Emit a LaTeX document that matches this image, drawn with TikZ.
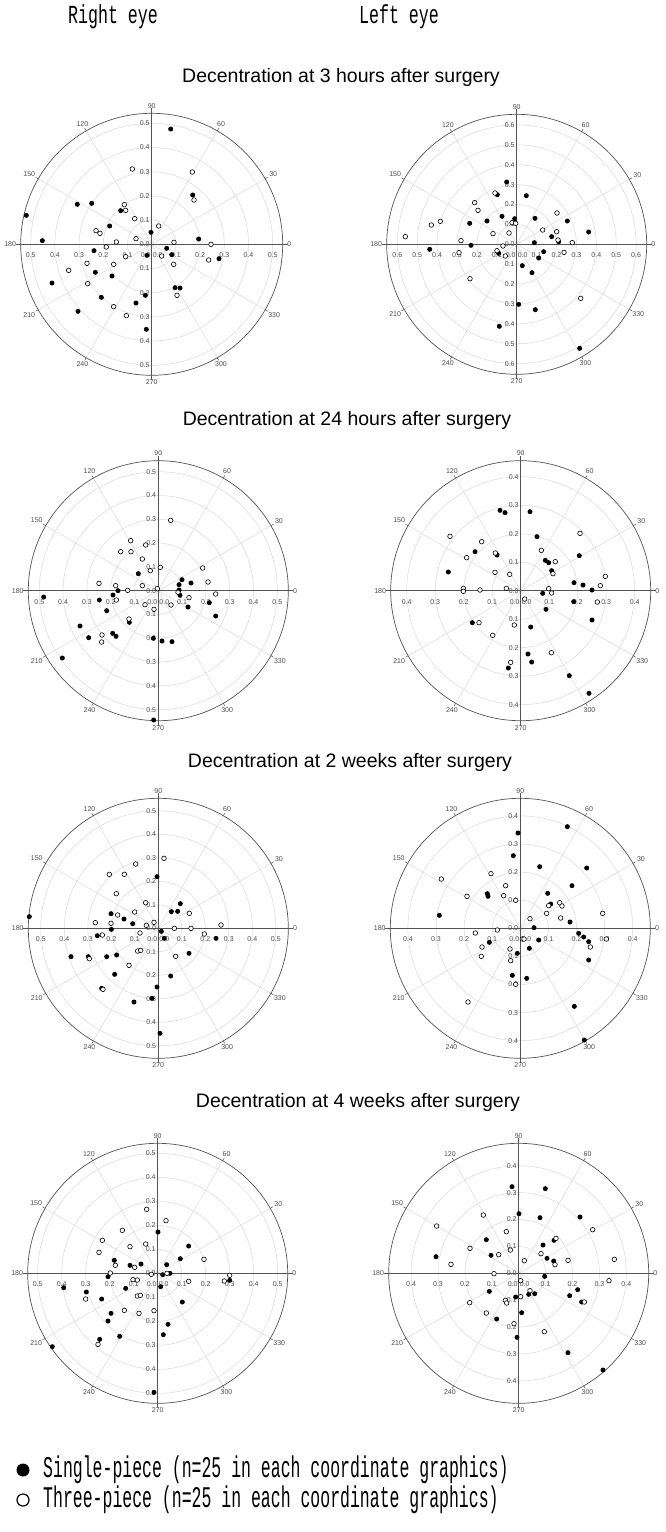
\documentclass[tikz,border=0pt]{standalone}
\usepackage{fontspec}
\setmainfont{Liberation Sans}
\newfontfamily\monof{Liberation Mono}
\begin{document}
\begin{tikzpicture}[x=1pt,y=-1pt,
  gridc/.style={gray!30,line width=0.5pt},
  axisc/.style={gray!65!black,line width=0.7pt},
  lab/.style={font=\fontsize{7}{8}\selectfont,text=gray!60!black,inner sep=0.5pt},
  fdot/.style={fill=black},
  odot/.style={draw=black,fill=white,line width=0.6pt}]
\useasboundingbox (0,0) rectangle (666,1532);
\newcommand\polarplot[5]{%
\begin{scope}[shift={(#1,#2)}]
 \foreach \k in {1,...,#4} \draw[gridc] (0,0) circle ({\k*#3pt});
 \foreach \t in {30,60,120,150,210,240,300,330}{
   \draw[gridc] (0,0) -- (\t:#5pt);
   \draw[axisc,line width=0.5pt] (\t:#5pt) -- (\t:{#5pt+3pt});}
 \draw[axisc] (0,0) circle (#5pt);
 \draw[axisc] ({-#5pt-5pt},0) -- ({#5pt+5pt},0);
 \draw[axisc] (0,{-#5pt-5pt}) -- (0,{#5pt+5pt});
 \foreach \t [evaluate=\t as \an using {mod(\t+180,360)}] in {0,30,...,330}
   \node[lab,anchor=\an] (ang\t) at (\t:{#5pt+4pt}) {\t};
 \node[lab,anchor=east] (v0) at (-1.5pt,0pt) {0.0};
 \node[lab] (h0a) at (-6pt,-11pt) {0.0};
 \node[lab] (h0b) at (6pt,-11pt) {0.0};
 \foreach \k in {1,...,#4}{
   \node[lab,anchor=east] (vu\k) at (-1.5pt,{\k*#3pt}) {0.\k};
   \node[lab,anchor=east] (vd\k) at (-1.5pt,{-\k*#3pt}) {0.\k};
   \node[lab] (hr\k) at ({\k*#3pt},-11pt) {0.\k};
   \node[lab] (hl\k) at ({-\k*#3pt},-11pt) {0.\k};}
\end{scope}}
\newcommand\fpts[3]{\foreach \a/\b in {#3} \fill[fdot] ({#1+\a/3},{#2+\b/3}) circle (2.5pt);}
\newcommand\opts[3]{\foreach \a/\b in {#3} \draw[odot] ({#1+\a/3},{#2+\b/3}) circle (2.3pt);}

\node[font=\monof\fontsize{26}{28}\selectfont] (re) at (113,17) {\scalebox{0.64}[1]{Right eye}};
\node[font=\monof\fontsize{26}{28}\selectfont] (le) at (399,17) {\scalebox{0.64}[1]{Left eye}};

\tikzset{ttl/.style={font=\fontsize{19.5}{21}\selectfont}}
\node[ttl] (t1) at (341,77) {Decentration at 3 hours after surgery};
\node[ttl] (t2) at (347,420) {Decentration at 24 hours after surgery};
\node[ttl] (t3) at (350,762) {Decentration at 2 weeks after surgery};
\node[ttl] (t4) at (358,1102) {Decentration at 4 weeks after surgery};

% row 1
\polarplot{151.7}{244.3}{24.2}{5}{131}
\polarplot{516.7}{244.3}{19.9}{6}{130}
\fpts{0}{60}{512/207,578/405,232/433,275/430,362/452,79/466,329/498,453/517,127/542,596/537,282/572,500/565,441/586,515/584,657/596,286/637,336/648,156/669,525/683,540/684,304/712,436/706,234/754,408/729,439/808}
\opts{0}{60}{397/327,577/336,582/420,373/434,377/451,476/498,404/476,288/512,300/520,349/546,408/536,319/561,522/547,633/553,377/590,485/588,626/600,261/610,341/613,206/631,521/613,263/671,531/706,341/740,379/767}
\fpts{333}{60}{521/366,493/404,580/407,507/469,545/476,462/483,410/490,606/475,703/483,767/516,656/530,604/548,414/556,290/568,677/545,632/575,617/594,497/580,568/617,597/638,557/733,607/749,499/799,740/865}
\opts{333}{60}{486/399,425/428,435/451,295/495,322/484,217/530,480/521,528/519,537/488,548/490,629/510,672/459,671/515,675/540,718/548,384/542,378/578,492/572,510/558,517/588,693/577,411/656,743/715}

% row 2
\polarplot{158.3}{590.7}{23.8}{5}{130}
\polarplot{520.7}{590.7}{28.5}{4}{130}
\fpts{0}{360}{415/641,546/659,537/674,573/669,354/692,339/705,298/720,131/711,537/690,540/706,628/728,320/752,564/741,647/768,388/787,240/798,266/833,338/820,348/829,460/835,486/843,516/845,187/894,461/1080}
\opts{0}{360}{512/481,392/542,437/555,362/575,393/575,427/597,481/622,451/632,608/624,624/666,297/670,347/677,383/691,427/677,472/686,534/697,567/713,647/702,349/720,435/734,462/748,513/735,387/777,306/825,305/846}
\fpts{333}{360}{501/451,516/458,591/455,612/530,426/575,492/585,346/636,637/601,647/608,656/632,739/587,723/668,750/675,777/690,629/700,722/725,639/748,777/780,418/788,593/801,585/882,596/906,526/924,709/947,768/1000}
\opts{333}{360}{351/529,446/545,625/571,741/520,401/593,487/579,667/605,530/643,660/641,486/637,817/649,802/677,520/685,391/685,391/694,441/690,647/686,656/699,575/717,793/726,544/795,438/788,479/826,655/878,533/907}

% row 3
\polarplot{158.3}{928.3}{23.5}{5}{130}
\polarplot{520.3}{928.3}{28.1}{4}{130}
\fpts{0}{740}{471/410,333/521,372/537,398/551,334/568,88/530,514/515,533/514,541/491,484/574,493/595,292/587,648/595,213/650,265/650,320/650,350/645,567/640,344/703,512/708,471/741,305/745,456/775,402/786,480/880}
\opts{0}{740}{492/355,407/372,328/403,373/403,349/461,437/488,404/516,353/525,286/548,333/550,439/556,462/547,420/579,307/585,523/565,573/565,663/555,613/582,568/520,413/633,422/631,527/649,268/656,387/676,309/748}
\fpts{333}{740}{703/260,555/279,541/347,620/380,761/384,717/437,463/461,465/469,644/460,653/492,319/526,711/546,603/563,737/580,752/591,767/605,469/607,617/600,589/625,553/640,767/660,538/706,581/715,724/799,754/900}
\opts{333}{740}{474/401,518/437,325/417,402/469,512/467,548/481,591/536,647/497,641/520,680/488,687/498,683/534,809/520,427/579,493/570,568/597,820/597,772/621,447/621,445/649,531/627,533/662,548/733,405/786,573/597}

% row 4
\polarplot{157.7}{1273.3}{24}{5}{130}
\polarplot{518.7}{1273.3}{26.9}{4}{130}
\fpts{0}{1120}{474/336,566/378,541/416,343/421,390/436,423/432,500/434,488/464,510/460,324/470,191/503,259/516,377/505,482/500,305/537,689/481,333/580,324/603,547/546,504/613,490/644,359/649,299/658,157/680,462/817}
\opts{0}{1120}{440/268,498/302,367/331,307/361,437/372,390/380,297/397,346/436,404/442,612/418,331/459,454/463,501/460,689/466,673/483,566/484,399/479,412/480,257/537,412/528,421/526,462/572,373/571,417/580,294/673}
\fpts{333}{1120}{537/200,637/206,558/281,621/293,741/291,460/359,630/375,663/361,474/406,642/415,662/423,309/410,635/469,469/514,548/531,587/523,605/521,710/527,734/509,746/546,491/597,566/578,552/652,705/698,810/750}
\opts{333}{1120}{451/285,311/318,520/335,779/329,669/355,411/385,532/390,497/404,624/401,574/422,666/434,705/421,844/418,354/433,483/461,563/482,828/482,591/512,517/541,521/549,563/530,410/548,460/579,543/611,634/635,754/546}

% legend
\fill (23,1470) circle (6.5pt);
\draw[line width=1.2pt] (23,1500) circle (6pt);
\node[anchor=west,font=\monof\fontsize{30}{32}\selectfont,inner sep=0pt] (l1) at (43,1470) {\scalebox{0.55}[1]{Single-piece (n=25 in each coordinate graphics)}};
\node[anchor=west,font=\monof\fontsize{30}{32}\selectfont,inner sep=0pt] (l2) at (43,1500) {\scalebox{0.55}[1]{Three-piece (n=25 in each coordinate graphics)}};
\end{tikzpicture}
\end{document}
